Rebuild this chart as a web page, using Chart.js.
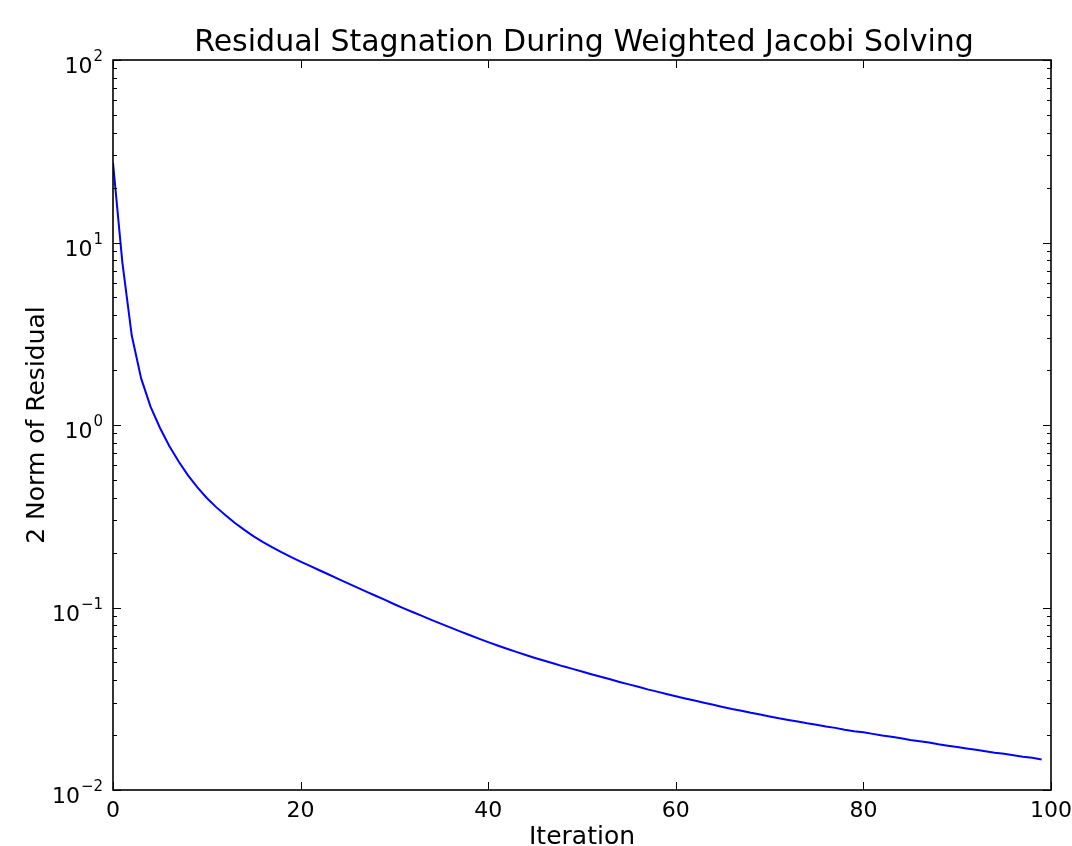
<!DOCTYPE html>
<html>
<head>
<meta charset="utf-8">
<script src="https://cdn.jsdelivr.net/npm/chart.js@4"></script>
<style>
  html, body { margin: 0; padding: 0; background: #fff; }
  canvas { display: block; }
</style>
</head>
<body>
<canvas id="myChart" width="1072" height="846"></canvas>
<script>
const title = 'Residual Stagnation During Weighted Jacobi Solving';
const x_label = 'Iteration';
const y_label = '2 Norm of Residual';

// iteration index 0..99
const iterations = Array.from({ length: 100 }, (_, i) => i);

// residual norm
const residual = [
	27.3, 7.76, 3.09, 1.80, 1.26, 0.966, 0.767, 0.631, 0.530, 0.455,
	0.3981, 0.3548, 0.3199, 0.2904, 0.2661, 0.2455, 0.2283, 0.2136, 0.2005, 0.1888,
	0.1786, 0.1690, 0.1600, 0.1516, 0.1436, 0.1361, 0.1290, 0.1223, 0.1160, 0.1100,
	0.1042, 0.0990, 0.0942, 0.0896, 0.0853, 0.0813, 0.0776, 0.0740, 0.0707, 0.0675,
	0.0646, 0.0619, 0.0594, 0.0571, 0.0549, 0.0529, 0.0511, 0.0493, 0.0476, 0.0461,
	0.0446, 0.0431, 0.0417, 0.0404, 0.0391, 0.0379, 0.0368, 0.0356, 0.0346, 0.0336,
	0.0326, 0.0317, 0.0309, 0.0301, 0.0293, 0.0285, 0.0278, 0.0272, 0.0265, 0.0259,
	0.0253, 0.0247, 0.0242, 0.0237, 0.0232, 0.0228, 0.0223, 0.0219, 0.0214, 0.0210,
	0.0207, 0.0203, 0.0199, 0.0196, 0.0192, 0.0188, 0.0185, 0.0182, 0.0178, 0.0175,
	0.0172, 0.0169, 0.0166, 0.0163, 0.0160, 0.0158, 0.0155, 0.0152, 0.0150, 0.0147
];

const x_ticks = [0, 20, 40, 60, 80, 100];
const y_exponents = [-2, -1, 0, 1, 2];

const FONT = "'DejaVu Sans', sans-serif";

// matplotlib-like frame, inward ticks and labels
const mplAxes = {
	id: 'mplAxes',
	afterDraw(chart) {
		const ctx = chart.ctx;
		const area = chart.chartArea;
		const xs = chart.scales.x;
		const ys = chart.scales.y;
		ctx.save();
		ctx.strokeStyle = '#000';
		ctx.fillStyle = '#000';

		// ticks
		ctx.lineWidth = 1;
		ctx.beginPath();
		x_ticks.forEach((t) => {
			const px = Math.round(xs.getPixelForValue(t)) + 0.5;
			ctx.moveTo(px, area.bottom);
			ctx.lineTo(px, area.bottom - 8);
			ctx.moveTo(px, area.top);
			ctx.lineTo(px, area.top + 8);
		});
		y_exponents.forEach((e) => {
			const py = Math.round(ys.getPixelForValue(Math.pow(10, e))) + 0.5;
			ctx.moveTo(area.left, py);
			ctx.lineTo(area.left + 8, py);
			ctx.moveTo(area.right, py);
			ctx.lineTo(area.right - 8, py);
		});
		for (let e = -2; e < 2; e++) {
			for (let m = 2; m <= 9; m++) {
				const py = Math.round(ys.getPixelForValue(m * Math.pow(10, e))) + 0.5;
				ctx.moveTo(area.left, py);
				ctx.lineTo(area.left + 4, py);
				ctx.moveTo(area.right, py);
				ctx.lineTo(area.right - 4, py);
			}
		}
		ctx.stroke();

		// frame
		ctx.lineWidth = 1.6;
		ctx.strokeRect(area.left, area.top, area.right - area.left, area.bottom - area.top);

		// x tick labels
		ctx.font = '22px ' + FONT;
		ctx.textAlign = 'center';
		ctx.textBaseline = 'alphabetic';
		x_ticks.forEach((t) => {
			ctx.fillText(String(t), xs.getPixelForValue(t), area.bottom + 27);
		});

		// y tick labels 10^e
		y_exponents.forEach((e) => {
			const py = ys.getPixelForValue(Math.pow(10, e));
			const right = area.left - 10;
			ctx.textAlign = 'right';
			ctx.font = '15px ' + FONT;
			const sup = String(e).replace('-', '\u2212');
			ctx.fillText(sup, right, py + 1);
			const w = ctx.measureText(sup).width;
			ctx.font = '22px ' + FONT;
			ctx.fillText('10', right - w - 1, py + 13);
		});

		// title and axis labels
		ctx.textAlign = 'center';
		ctx.font = '30px ' + FONT;
		ctx.fillText(title, (area.left + area.right) / 2 + 2, 51);
		ctx.font = '25px ' + FONT;
		ctx.fillText(x_label, (area.left + area.right) / 2, 844);
		ctx.save();
		ctx.translate(44, (area.top + area.bottom) / 2);
		ctx.rotate(-Math.PI / 2);
		ctx.fillText(y_label, 0, 0);
		ctx.restore();

		ctx.restore();
	},
};

const ctx = document.getElementById('myChart').getContext('2d');
const myChart = new Chart(ctx, {
	type: 'line',
	data: {
		datasets: [
			{
				data: iterations.map((it, i) => ({ x: it, y: residual[i] })),
				borderColor: '#0000ff',
				borderWidth: 2,
				pointRadius: 0,
				tension: 0,
				fill: false,
			},
		],
	},
	options: {
		responsive: false,
		animation: false,
		devicePixelRatio: 1,
		layout: { padding: { left: 113, right: 21, top: 60, bottom: 56 } },
		plugins: {
			legend: { display: false },
			title: { display: false },
			tooltip: { enabled: false },
		},
		scales: {
			x: { type: 'linear', min: 0, max: 100, display: false },
			y: { type: 'logarithmic', min: 0.01, max: 100, display: false },
		},
	},
	plugins: [mplAxes],
});
</script>
</body>
</html>
